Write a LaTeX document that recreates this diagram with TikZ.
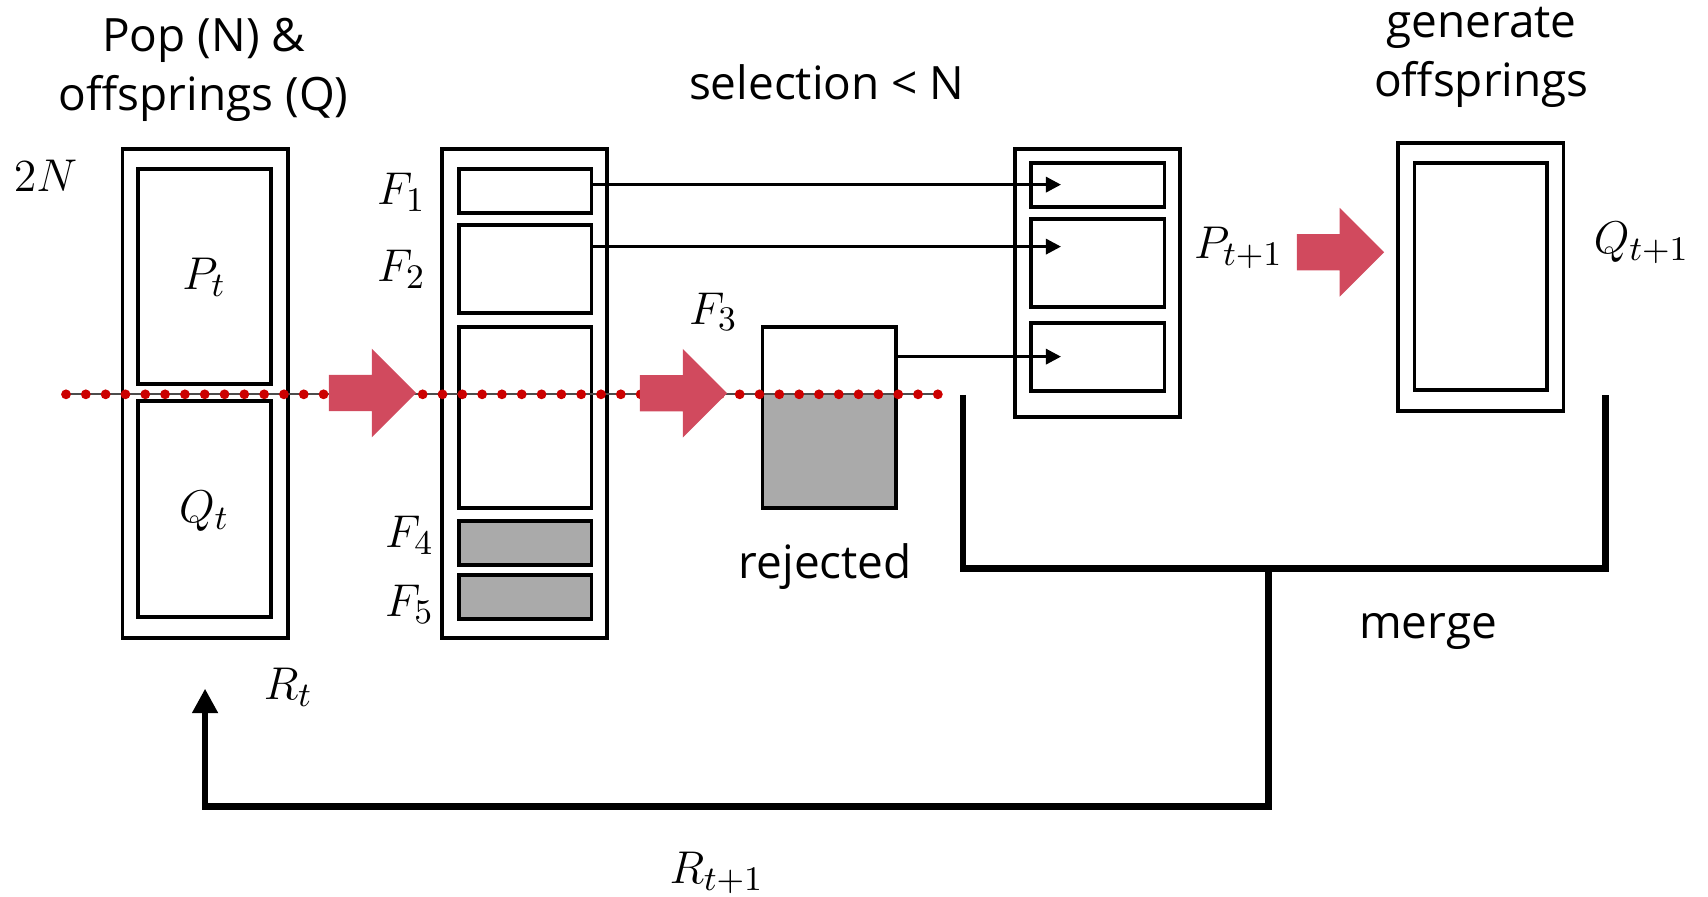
\documentclass[tikz,border=0pt]{standalone}
\usepackage{fontspec}
\setmainfont{Open Sans}
\usetikzlibrary{arrows.meta, positioning, calc, backgrounds, shapes.arrows}
\definecolor{arrowred}{RGB}{209,74,94}
\definecolor{dotred}{RGB}{204,0,0}
\definecolor{rejgray}{RGB}{170,170,170}

\begin{document}
\begin{tikzpicture}[
		font=\fontsize{12}{15.4}\selectfont,
		outer/.style={draw, line width=1pt, inner sep=0pt, minimum width=1.517cm},
		inner/.style={draw, line width=1pt, inner sep=0pt, minimum width=1.22cm},
		rejfill/.style={inner, fill=rejgray},
		lbl/.style={anchor=base, inner sep=0pt, align=center},
		mlbl/.style={lbl, font=\fontsize{13.2}{16}\selectfont},
		link/.style={-{Triangle[length=0.14cm, width=0.14cm]}, line width=0.8pt},
		feed/.style={line width=1.75pt},
		bigarrow/.style={single arrow, fill=arrowred, draw=none, minimum height=0.8cm,
			inner xsep=0pt, inner ysep=0.16cm, single arrow head extend=0.24cm,
			single arrow tip angle=90, anchor=tip},
	]
		\useasboundingbox (0,0) rectangle (15.68,-8.23);

		% R_t = P_t + Q_t
		\node[outer, minimum height=4.492cm] (rt) at (1.8825,-3.614) {};
		\node[inner, minimum height=1.977cm] (pt) at (1.88,-2.54) {};
		\node[inner, minimum height=1.98cm] (qt) at (1.88,-4.671) {};
		\node[lbl] (popl) at (1.87,-1.01) {Pop (N) \&\\offsprings (Q)};
		\node[mlbl] (twon) at (0.417,-1.76) {$2N$};
		\node[mlbl] (ptl) at (1.875,-2.66) {$P_t$};
		\node[mlbl] (qtl) at (1.875,-4.80) {$Q_t$};
		\node[mlbl] (rtl) at (2.647,-6.426) {$R_t$};

		% fronts
		\node[outer, minimum height=4.492cm] (fr) at (4.8165,-3.614) {};
		\node[inner, minimum height=0.401cm] (f1) at (4.82,-1.7515) {};
		\node[inner, minimum height=0.814cm] (f2) at (4.82,-2.469) {};
		\node[inner, minimum height=1.668cm] (f3) at (4.82,-3.833) {};
		\node[rejfill, minimum height=0.407cm] (f4) at (4.82,-4.9835) {};
		\node[rejfill, minimum height=0.404cm] (f5) at (4.82,-5.481) {};
		\node[mlbl] (f1l) at (3.685,-1.88) {$F_1$};
		\node[mlbl] (f2l) at (3.685,-2.586) {$F_2$};
		\node[mlbl] (f4l) at (3.76,-5.03) {$F_4$};
		\node[mlbl] (f5l) at (3.76,-5.66) {$F_5$};
		\node[lbl] (sell) at (7.59,-0.912) {selection < N};

		% split of F_3
		\node[inner, minimum height=1.667cm, minimum width=1.224cm] (rej) at (7.612,-3.8335) {};
		\begin{scope}[on background layer]
			\fill[rejgray] (rej.west |- 0,-3.62) rectangle (rej.south east);
		\end{scope}
		\node[mlbl] (f3l) at (6.55,-2.975) {$F_3$};
		\node[lbl] (rejl) at (7.577,-5.31) {rejected};

		% P_{t+1}
		\node[outer, minimum height=2.457cm, minimum width=1.518cm] (pn) at (10.077,-2.5965) {};
		\node[inner, minimum height=0.404cm, minimum width=1.222cm] (pa) at (10.079,-1.695) {};
		\node[inner, minimum height=0.805cm, minimum width=1.222cm] (pb) at (10.079,-2.4125) {};
		\node[inner, minimum height=0.624cm, minimum width=1.222cm] (pc) at (10.079,-3.274) {};
		\node[mlbl] (pnl) at (11.37,-2.37) {$P_{t+1}$};

		% Q_{t+1}
		\node[outer, minimum height=2.454cm, minimum width=1.519cm] (qn) at (13.5935,-2.543) {};
		\node[inner, minimum height=2.08cm, minimum width=1.215cm] (qi) at (13.5925,-2.54) {};
		\node[mlbl] (qnl) at (15.07,-2.326) {$Q_{t+1}$};
		\node[lbl] (genl) at (13.6,-0.888) {generate\\offsprings};

		% cut line
		\draw[black!70, line width=0.6pt] (0.606,-3.62) -- (8.61,-3.62);
		\foreach \i in {0,...,44}
			\fill[dotred] ({0.606+0.1819*\i},-3.62) circle (0.045);

		% big arrows
		\node[bigarrow] (a1) at (3.83,-3.608) {};
		\node[bigarrow] (a2) at (6.685,-3.61) {};
		\node[bigarrow] (a3) at (12.716,-2.316) {};

		% selected fronts
		\draw[link] (f1.east |- pa) -- ([xshift=0.29cm]pa.west);
		\draw[link] ($(f2.east)+(0,0.205)$) -- ($(f2.east -| pb.west)+(0.29,0.205)$);
		\draw[link] (rej.east |- pc) -- ([xshift=0.29cm]pc.west);

		% merge and feedback
		\coordinate (brl) at (8.84,-3.626);
		\coordinate (brr) at (14.74,-3.626);
		\coordinate (stem) at (11.648,-5.216);
		\coordinate (back) at (11.648,-7.406);
		\draw[feed] (brl) |- (stem) -| (brr);
		\draw[feed, -{Triangle[length=0.225cm, width=0.225cm]}] (stem) -- (back) -| ([yshift=-0.444cm]rt.south);
		\node[lbl] (mrgl) at (13.11,-5.86) {merge};
		\node[mlbl] (rnl) at (6.58,-8.108) {$R_{t+1}$};
	\end{tikzpicture}
\end{document}
